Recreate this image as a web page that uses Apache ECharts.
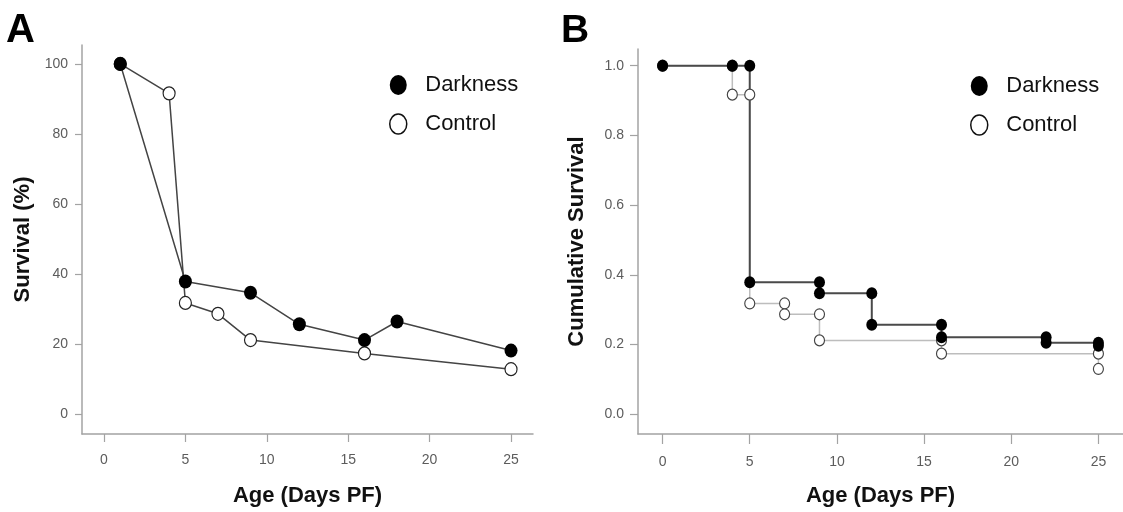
<!DOCTYPE html>
<html>
<head>
<meta charset="utf-8">
<script src="https://cdn.jsdelivr.net/npm/echarts@6/dist/echarts.min.js"></script>
<style>
  html, body { margin: 0; padding: 0; background: #fff; }
  #main { width: 1123px; height: 512px; }
</style>
</head>
<body>
<div id="main"></div>
<script>
// panel A: survival (%) by age
const ageA_dark = [1, 5, 9, 12, 16, 18, 25]
const survA_dark = [100, 37.9, 34.7, 25.7, 21.2, 26.5, 18.2]
const ageA_ctrl = [1, 4, 5, 7, 9, 16, 25]
const survA_ctrl = [100, 91.6, 31.8, 28.7, 21.2, 17.4, 12.9]

// panel B: cumulative survival (step vertices)
const ageB_dark = [0, 4, 5, 5, 9, 9, 12, 12, 16, 16, 22, 22, 25, 25]
const survB_dark = [1, 1, 1, 0.379, 0.379, 0.347, 0.347, 0.257, 0.257, 0.221, 0.221, 0.205, 0.205, 0.197]
const ageB_ctrl = [0, 4, 4, 5, 5, 7, 7, 9, 9, 16, 16, 25, 25]
const survB_ctrl = [1, 1, 0.917, 0.917, 0.318, 0.318, 0.287, 0.287, 0.212, 0.212, 0.174, 0.174, 0.13]

// tick labels
const ticksX = [0, 5, 10, 15, 20, 25]
const ticksA_y = [0, 20, 40, 60, 80, 100]
const ticksB_y = [0, 0.2, 0.4, 0.6, 0.8, 1.0]

const zip = (xs, ys) => xs.map((x, i) => [x, ys[i]])

const dot = 'path://M0,10A10,10,0,1,1,20,10A10,10,0,1,1,0,10Z'
const legendDot = 'path://M0,10A8.5,10,0,1,1,17,10A8.5,10,0,1,1,0,10Z'
const tickFont = '"Liberation Sans Narrow", "Arial Narrow", "Liberation Sans", sans-serif'
const mainFont = '"Liberation Sans", Arial, sans-serif'
const axisGrey = '#a3a3a3'
const labelGrey = '#5c5c5c'

function makeAxis(o) {
    return Object.assign({
        type: 'value',
        nameLocation: 'middle',
        nameTextStyle: { fontFamily: mainFont, fontSize: 22, fontWeight: 'bold', color: '#111' },
        splitLine: { show: false },
        axisLine: { show: true, onZero: false, lineStyle: { color: axisGrey, width: 1.5 } }
    }, o)
}

function makeLegend(left, top) {
    return {
        orient: 'vertical',
        left: left,
        top: top,
        itemWidth: 44,
        itemHeight: 20,
        itemGap: 17,
        symbolKeepAspect: true,
        selectedMode: false,
        textStyle: { fontFamily: mainFont, fontSize: 22, color: '#111' },
        data: [
            { name: 'Darkness', icon: legendDot, itemStyle: { color: '#000', borderWidth: 0 } },
            { name: 'Control', icon: legendDot, itemStyle: { color: '#fff', borderColor: '#111', borderWidth: 1.5 } }
        ]
    }
}

const chart = echarts.init(document.getElementById('main'))
const option = {
    animation: false,
    backgroundColor: '#fff',
    title: [
        { text: 'A', left: 6, top: 11, padding: 0, textStyle: { fontFamily: mainFont, fontSize: 40, fontWeight: 'bold', color: '#000' } },
        { text: 'B', left: 561, top: 12, padding: 0, textStyle: { fontFamily: mainFont, fontSize: 39, fontWeight: 'bold', color: '#000' } }
    ],
    legend: [makeLegend(384, 69), makeLegend(965, 70)],
    grid: [
        { left: 82, top: 45, width: 451, height: 393 },
        { left: 638, top: 49, width: 492, height: 391 }
    ],
    xAxis: [
        makeAxis({
            gridIndex: 0, min: -1.35, max: 26.35, name: 'Age (Days PF)', nameGap: 51,
            axisTick: { show: true, length: 8, customValues: ticksX, lineStyle: { color: axisGrey, width: 1.2 } },
            axisLabel: { fontFamily: tickFont, fontSize: 14, color: labelGrey, margin: 19, customValues: ticksX }
        }),
        makeAxis({
            gridIndex: 1, min: -1.41, max: 26.41, name: 'Age (Days PF)', nameGap: 51,
            axisTick: { show: true, length: 10, customValues: ticksX, lineStyle: { color: axisGrey, width: 1.2 } },
            axisLabel: { fontFamily: tickFont, fontSize: 14, color: labelGrey, margin: 21, customValues: ticksX }
        })
    ],
    yAxis: [
        makeAxis({
            gridIndex: 0, min: -5.6, max: 105.4, name: 'Survival (%)', nameGap: 48,
            axisTick: { show: true, length: 7, customValues: ticksA_y, lineStyle: { color: axisGrey, width: 1.2 } },
            axisLabel: { fontFamily: tickFont, fontSize: 14, color: labelGrey, margin: 14, customValues: ticksA_y }
        }),
        makeAxis({
            gridIndex: 1, min: -0.0565, max: 1.048, name: 'Cumulative Survival', nameGap: 50,
            axisTick: { show: true, length: 8, customValues: ticksB_y, lineStyle: { color: axisGrey, width: 1.2 } },
            axisLabel: { fontFamily: tickFont, fontSize: 14, color: labelGrey, margin: 14, customValues: ticksB_y,
                formatter: v => v.toFixed(1) }
        })
    ],
    series: [
        {
            name: 'Control', type: 'line', xAxisIndex: 0, yAxisIndex: 0,
            data: zip(ageA_ctrl, survA_ctrl),
            symbol: dot, symbolSize: [12, 13], showAllSymbol: true,
            lineStyle: { color: '#444', width: 1.5 },
            itemStyle: { color: '#fff', borderColor: '#222', borderWidth: 1.2 },
            emphasis: { disabled: true }
        },
        {
            name: 'Darkness', type: 'line', xAxisIndex: 0, yAxisIndex: 0,
            data: zip(ageA_dark, survA_dark),
            symbol: dot, symbolSize: [13, 14], showAllSymbol: true,
            lineStyle: { color: '#444', width: 1.5 },
            itemStyle: { color: '#000', borderWidth: 0 },
            emphasis: { disabled: true }
        },
        {
            name: 'Control', type: 'line', xAxisIndex: 1, yAxisIndex: 1,
            data: zip(ageB_ctrl, survB_ctrl),
            symbol: dot, symbolSize: [10, 11], showAllSymbol: true,
            lineStyle: { color: '#bdbdbd', width: 1.5 },
            itemStyle: { color: '#fff', borderColor: '#444', borderWidth: 1.2 },
            emphasis: { disabled: true }
        },
        {
            name: 'Darkness', type: 'line', xAxisIndex: 1, yAxisIndex: 1,
            data: zip(ageB_dark, survB_dark),
            symbol: dot, symbolSize: [11, 12], showAllSymbol: true,
            lineStyle: { color: '#4a4a4a', width: 2 },
            itemStyle: { color: '#000', borderWidth: 0 },
            emphasis: { disabled: true }
        }
    ]
}
chart.setOption(option)
</script>
</body>
</html>
